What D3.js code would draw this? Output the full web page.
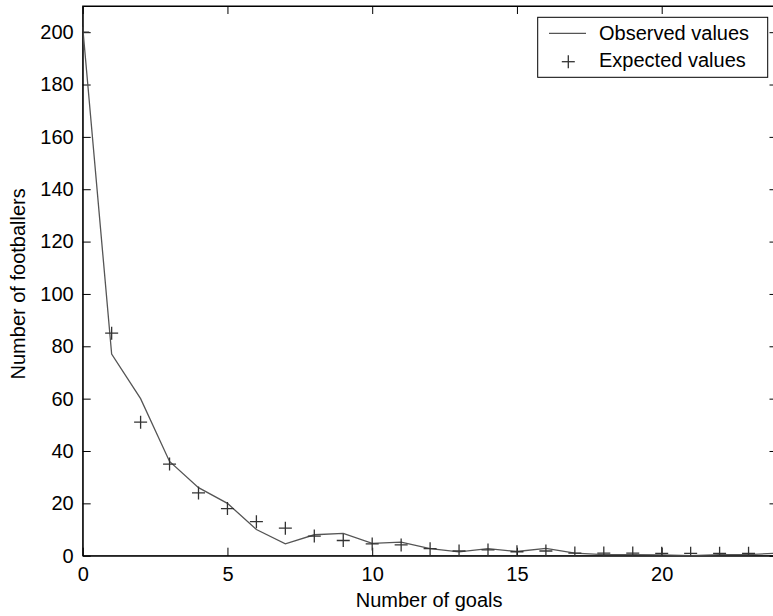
<!DOCTYPE html>
<html>
<head>
    <title>Number of goals vs number of footballers</title>
    <script src="https://d3js.org/d3.v7.min.js"></script>
    <style>
        body { margin: 0; background: #fff; }
        svg { display: block; }
        text { font-family: "Liberation Sans", Arial, sans-serif; font-size: 20px; fill: #000; }
        .axis line, .axis path { stroke: #000; }
    </style>
</head>
<body>
<div id="chart"></div>
<script>
// data
const goals = d3.range(0, 25);
const observed = [202, 77, 60, 36, 26, 20, 10, 4.5, 8, 8.5, 4.7, 5.2, 2.7, 1.5, 2.7, 1.6, 2.8, 1, 0.4, 0.4, 0.3, 0, 0.4, 0.4, 1];
const expectedX = d3.range(0, 24);
const expected = [200, 85, 51, 35, 24, 18, 13, 10.5, 7.5, 5.8, 4.5, 4.1, 2.7, 1.8, 2.2, 1.5, 1.8, 1, 1, 1, 0.9, 0.9, 0.9, 0.9];
const xTicks = [0, 5, 10, 15, 20];
const yTicks = d3.range(0, 201, 20);
const legendLabels = ["Observed values", "Expected values"];

const width = 773, height = 616;
const plotLeft = 82.7, plotTop = 6, plotRight = 777.5, plotBottom = 555.7;

const svg = d3.select("#chart").append("svg")
    .attr("width", width)
    .attr("height", height);

svg.append("rect").attr("width", width).attr("height", height).attr("fill", "#fff");

const x = d3.scaleLinear().domain([0, 24]).range([plotLeft, plotRight]);
const y = d3.scaleLinear().domain([0, 210]).range([plotBottom, plotTop]);

// clip to plot area
svg.append("clipPath").attr("id", "plot")
    .append("rect").attr("x", plotLeft).attr("y", plotTop - 2)
    .attr("width", plotRight - plotLeft).attr("height", plotBottom - plotTop + 2);

// axes with inward ticks (box on)
const tick = 8;
svg.append("g").attr("class", "axis")
    .attr("transform", `translate(0,${plotBottom})`)
    .call(d3.axisBottom(x).tickValues(xTicks).tickSizeInner(-tick).tickSizeOuter(0))
    .call(g => g.selectAll("text").attr("dy", "0.71em").attr("y", 11));
svg.append("g").attr("class", "axis")
    .attr("transform", `translate(0,${plotTop})`)
    .call(d3.axisTop(x).tickValues(xTicks).tickSizeInner(-tick).tickSizeOuter(0).tickFormat(""));
svg.append("g").attr("class", "axis")
    .attr("transform", `translate(${plotLeft},0)`)
    .call(d3.axisLeft(y).tickValues(yTicks).tickSizeInner(-tick).tickSizeOuter(0).tickPadding(9));
svg.append("g").attr("class", "axis")
    .attr("transform", `translate(${plotRight},0)`)
    .call(d3.axisRight(y).tickValues(yTicks).tickSizeInner(-tick).tickSizeOuter(0).tickFormat(""));

svg.selectAll(".axis text").style("font-family", "'Liberation Sans', Arial, sans-serif").style("font-size", "20px");

// box
svg.append("rect")
    .attr("x", plotLeft).attr("y", plotTop)
    .attr("width", plotRight - plotLeft).attr("height", plotBottom - plotTop)
    .attr("fill", "none").attr("stroke", "#000");

// observed line
const line = d3.line().x((d, i) => x(goals[i])).y(d => y(d));
svg.append("path")
    .datum(observed)
    .attr("clip-path", "url(#plot)")
    .attr("d", line)
    .attr("fill", "none")
    .attr("stroke", "#555")
    .attr("stroke-width", 1.3);

// expected markers
const plus = 6.5;
const marks = svg.append("g").attr("clip-path", "url(#plot)")
    .selectAll("g").data(expected).enter().append("g")
    .attr("transform", (d, i) => `translate(${x(expectedX[i])},${y(d)})`);
marks.append("line").attr("x1", -plus).attr("x2", plus).attr("stroke", "#333").attr("stroke-width", 1.3);
marks.append("line").attr("y1", -plus).attr("y2", plus).attr("stroke", "#333").attr("stroke-width", 1.3);

// axis labels
svg.append("text")
    .attr("x", (plotLeft + plotRight) / 2 - 1)
    .attr("y", 607)
    .attr("text-anchor", "middle")
    .text("Number of goals");
svg.append("text")
    .attr("transform", `translate(25,${(plotTop + plotBottom) / 2 + 3}) rotate(-90)`)
    .attr("text-anchor", "middle")
    .text("Number of footballers");

// legend
const legend = svg.append("g");
legend.append("rect")
    .attr("x", 537.7).attr("y", 17.3)
    .attr("width", 230).attr("height", 60)
    .attr("fill", "#fff").attr("stroke", "#000");
legend.append("line")
    .attr("x1", 549).attr("x2", 586).attr("y1", 33.3).attr("y2", 33.3)
    .attr("stroke", "#555").attr("stroke-width", 1.3);
legend.append("line")
    .attr("x1", 568.3 - plus).attr("x2", 568.3 + plus).attr("y1", 61.7).attr("y2", 61.7)
    .attr("stroke", "#333").attr("stroke-width", 1.3);
legend.append("line")
    .attr("x1", 568.3).attr("x2", 568.3).attr("y1", 61.7 - plus).attr("y2", 61.7 + plus)
    .attr("stroke", "#333").attr("stroke-width", 1.3);
legend.selectAll("text.lab").data(legendLabels).enter().append("text")
    .attr("class", "lab")
    .attr("x", 599)
    .attr("y", (d, i) => 40 + i * 26.5)
    .text(d => d);
</script>
</body>
</html>
